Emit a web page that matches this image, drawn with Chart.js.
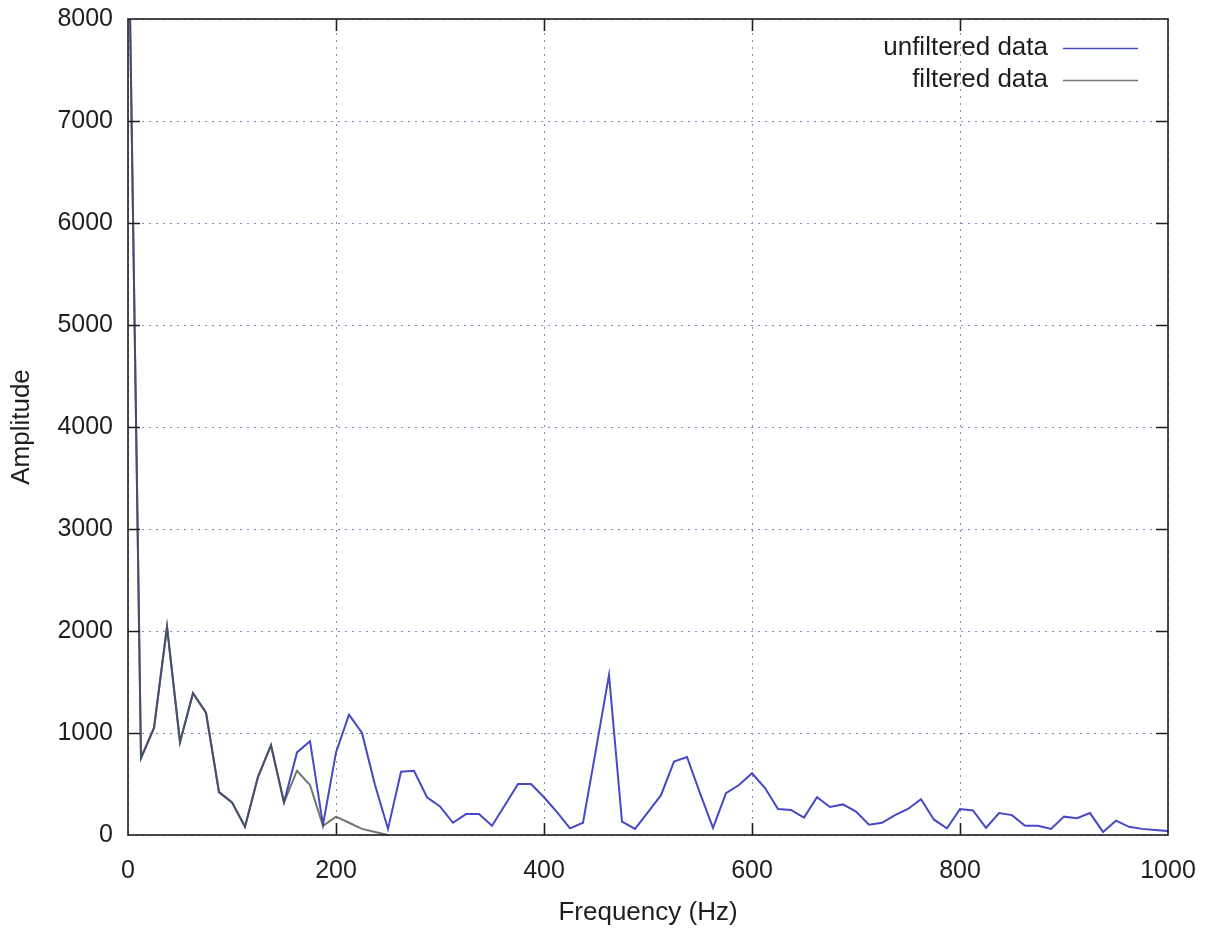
<!DOCTYPE html>
<html>
<head>
<meta charset="utf-8">
<title>Amplitude vs Frequency</title>
<script src="https://cdn.jsdelivr.net/npm/chart.js@4.4.1/dist/chart.umd.min.js"></script>
<style>
  html, body { margin: 0; padding: 0; background: #fff; }
  #wrap { width: 1205px; height: 932px; }
</style>
</head>
<body>
<div id="wrap"><canvas id="fft"></canvas></div>
<script>
/* ── data ───────────────────────────────────── */
const freqs = [
  0, 12.5, 25, 37.5, 50, 62.5, 75, 87.5, 100, 112.5,
  125, 137.5, 150, 162.5, 175, 187.5, 200, 212.5, 225, 237.5,
  250, 262.5, 275, 287.5, 300, 312.5, 325, 337.5, 350, 362.5,
  375, 387.5, 400, 412.5, 425, 437.5, 450, 462.5, 475, 487.5,
  500, 512.5, 525, 537.5, 550, 562.5, 575, 587.5, 600, 612.5,
  625, 637.5, 650, 662.5, 675, 687.5, 700, 712.5, 725, 737.5,
  750, 762.5, 775, 787.5, 800, 812.5, 825, 837.5, 850, 862.5,
  875, 887.5, 900, 912.5, 925, 937.5, 950, 962.5, 975, 987.5,
  1000
];

const unfiltered = [
  9400, 755, 1050, 2040, 910, 1390, 1200, 420, 320, 80,
  570, 880, 320, 810, 920, 100, 810, 1180, 1000, 490,
  60, 620, 630, 370, 280, 120, 205, 205, 90, 295,
  500, 500, 370, 225, 65, 120, 840, 1570, 130, 60,
  225, 390, 720, 765, 410, 70, 410, 490, 605, 460,
  255, 245, 170, 370, 275, 300, 230, 100, 120, 195,
  255, 350, 150, 65, 255, 240, 70, 215, 195, 90,
  90, 60, 180, 165, 215, 30, 140, 80, 60, 50,
  40
];

const filtered = [
  9400, 755, 1050, 2040, 910, 1390, 1200, 420, 320, 80,
  570, 880, 320, 630, 490, 90, 180, 120, 60, 30,
  0
];

const xTicks = [0, 200, 400, 600, 800, 1000];
const yTicks = [0, 1000, 2000, 3000, 4000, 5000, 6000, 7000, 8000];

/* ── styles ─────────────────────────────────── */
const fontFamily = '"Liberation Sans", Arial, sans-serif';
const colors = {
  unfiltered: '#4848c4',
  filtered: 'rgba(70, 82, 70, 0.78)',
  grid: '#8e84b8',
  frame: '#1e1e1e',
  text: '#1e1e1e',
};

const toPoints = (ys) => ys.map((y, i) => ({ x: freqs[i], y }));

/* ── plot frame with inward ticks (gnuplot style) ── */
const framePlugin = {
  id: 'frame',
  afterDatasetsDraw(chart) {
    const { ctx, chartArea: a, scales } = chart;
    const len = 12;
    ctx.save();
    ctx.strokeStyle = colors.frame;
    ctx.lineWidth = 1.6;
    ctx.strokeRect(a.left, a.top, a.right - a.left, a.bottom - a.top);
    ctx.beginPath();
    yTicks.slice(1, -1).forEach(v => {
      const py = Math.round(scales.y.getPixelForValue(v)) + 0.5;
      ctx.moveTo(a.left, py); ctx.lineTo(a.left + len, py);
      ctx.moveTo(a.right, py); ctx.lineTo(a.right - len, py);
    });
    xTicks.slice(1, -1).forEach(v => {
      const px = Math.round(scales.x.getPixelForValue(v)) + 0.5;
      ctx.moveTo(px, a.bottom); ctx.lineTo(px, a.bottom - len);
      ctx.moveTo(px, a.top); ctx.lineTo(px, a.top + len);
    });
    ctx.stroke();
    ctx.restore();
  }
};

/* ── key: text first, then line sample ─────── */
const keyPlugin = {
  id: 'key',
  afterDraw(chart) {
    const { ctx } = chart;
    const textRight = 1048, lineStart = 1063, lineEnd = 1138;
    ctx.save();
    ctx.font = '26px ' + fontFamily;
    ctx.textAlign = 'right';
    ctx.textBaseline = 'middle';
    chart.data.datasets.forEach((ds, i) => {
      const y = 48 + i * 32;
      ctx.fillStyle = colors.text;
      ctx.fillText(ds.label, textRight, y);
      ctx.strokeStyle = ds.borderColor;
      ctx.lineWidth = 1.5;
      ctx.beginPath();
      ctx.moveTo(lineStart, y + 0.5);
      ctx.lineTo(lineEnd, y + 0.5);
      ctx.stroke();
    });
    ctx.restore();
  }
};

/* ── chart ──────────────────────────────────── */
new Chart(document.getElementById('fft'), {
  type: 'line',
  data: {
    datasets: [
      {
        label: 'unfiltered data',
        data: toPoints(unfiltered),
        borderColor: colors.unfiltered,
        borderWidth: 2,
        pointRadius: 0,
        tension: 0,
        order: 2,
      },
      {
        label: 'filtered data',
        data: toPoints(filtered),
        borderColor: colors.filtered,
        borderWidth: 2,
        pointRadius: 0,
        tension: 0,
        order: 1,
      }
    ]
  },
  options: {
    responsive: true,
    maintainAspectRatio: false,
    animation: false,
    layout: { padding: { top: 19, right: 37, left: 0, bottom: 0 } },
    plugins: {
      legend: { display: false },
      tooltip: { enabled: false },
    },
    scales: {
      x: {
        type: 'linear',
        min: 0,
        max: 1000,
        afterBuildTicks: (s) => { s.ticks = xTicks.map(v => ({ value: v })); },
        afterFit: (s) => { s.height = 97; s.paddingLeft = 0; s.paddingRight = 0; },
        grid: { color: colors.grid, lineWidth: 1, drawTicks: false },
        border: { display: false, dash: [2, 5] },
        ticks: {
          color: colors.text,
          padding: 21,
          maxRotation: 0,
          font: { family: fontFamily, size: 25 },
          callback: (v) => String(v),
        },
        title: {
          display: true,
          text: 'Frequency (Hz)',
          color: colors.text,
          font: { family: fontFamily, size: 26 },
          padding: { top: 0, bottom: 4 },
        }
      },
      y: {
        min: 0,
        max: 8000,
        afterBuildTicks: (s) => { s.ticks = yTicks.map(v => ({ value: v })); },
        afterFit: (s) => { s.width = 128; s.paddingTop = 0; s.paddingBottom = 0; },
        grid: { color: colors.grid, lineWidth: 1, drawTicks: false },
        border: { display: false, dash: [2, 5] },
        ticks: {
          color: colors.text,
          padding: 15,
          font: { family: fontFamily, size: 25 },
          callback: (v) => String(v),
        },
        title: {
          display: true,
          text: 'Amplitude',
          color: colors.text,
          font: { family: fontFamily, size: 26 },
          padding: { top: 6, bottom: 0 },
        }
      }
    }
  },
  plugins: [framePlugin, keyPlugin]
});
</script>
</body>
</html>
